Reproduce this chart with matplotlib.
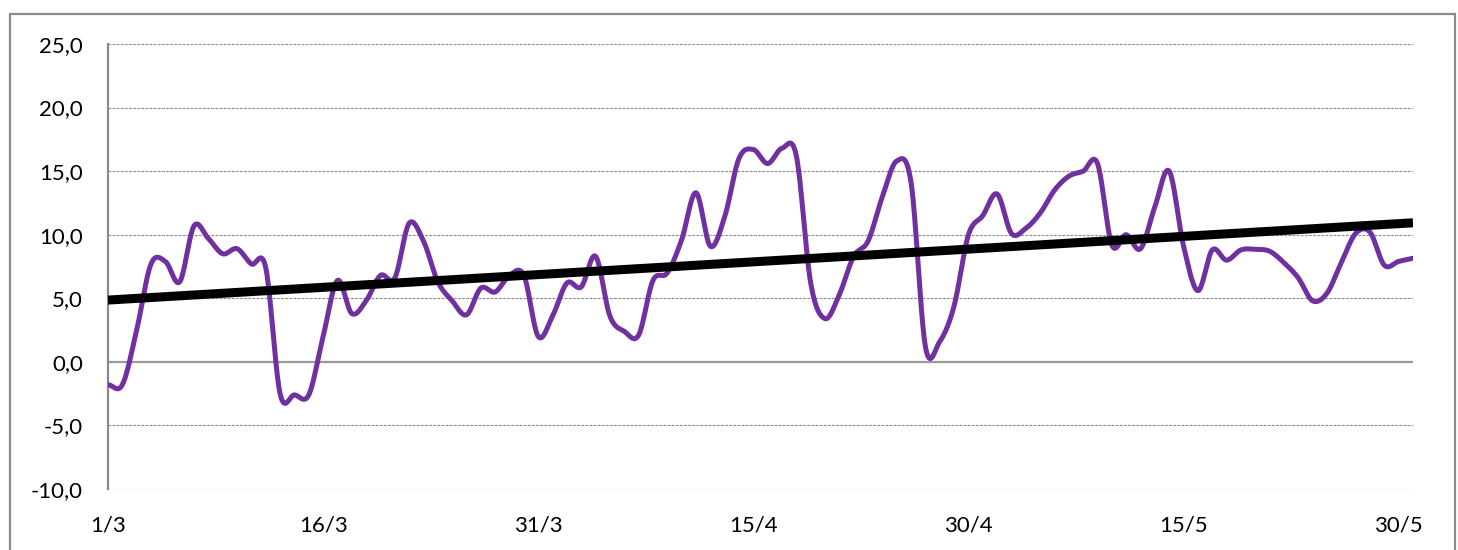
"""Daily temperature 1/3 - 31/5 with linear trend (Excel-style smoothed line)."""
import matplotlib
matplotlib.use("Agg")
import matplotlib.pyplot as plt
import matplotlib.patches as mpatches
import numpy as np

# ---------------------------------------------------------------------------
# Data (one value per day from 1/3 to 31/5)
# ---------------------------------------------------------------------------
TEMPS = [
    -1.8, -1.8, 2.5, 7.7, 7.9, 6.3, 10.7, 9.7, 8.5, 8.9,      # 1/3 - 10/3
    7.7, 7.4, -2.5, -2.6, -2.6, 2.0, 6.4, 3.8, 4.8, 6.8,      # 11/3 - 20/3
    6.6, 10.9, 9.5, 6.3, 4.8, 3.7, 5.8, 5.5, 6.8, 6.8,        # 21/3 - 30/3
    2.0, 3.6, 6.2, 5.9, 8.3, 3.6, 2.4, 2.1, 6.4, 7.0,         # 31/3 - 9/4
    9.6, 13.3, 9.1, 11.4, 16.0, 16.7, 15.6, 16.8, 16.2, 6.2,  # 10/4 - 19/4
    3.4, 5.3, 8.3, 9.5, 13.0, 15.8, 14.1, 1.2, 1.6, 4.4,      # 20/4 - 29/4
    10.0, 11.5, 13.2, 10.1, 10.5, 11.7, 13.5, 14.6, 15.0, 15.6,  # 30/4 - 9/5
    9.2, 10.0, 8.9, 12.2, 15.0, 9.1, 5.6, 8.8, 8.0, 8.8,      # 10/5 - 19/5
    8.85, 8.7, 7.8, 6.6, 4.8, 5.4, 7.8, 10.1, 10.2, 7.6,      # 20/5 - 29/5
    7.9, 8.15,                                                # 30/5 - 31/5
]
TICK_DAYS = [0, 15, 30, 45, 60, 75, 90]
TICK_LABELS = ["1/3", "16/3", "31/3", "15/4", "30/4", "15/5", "30/5"]
Y_TICKS = [-10, -5, 0, 5, 10, 15, 20, 25]

PURPLE = "#7030A0"
GRID_GRAY = "#8c8c8c"


def smooth_line(x, y, n_sub=20):
    """Catmull-Rom interpolation, close to Excel's 'smoothed line'."""
    x = np.asarray(x, dtype=float)
    y = np.asarray(y, dtype=float)
    px = np.concatenate([[2 * x[0] - x[1]], x, [2 * x[-1] - x[-2]]])
    py = np.concatenate([[2 * y[0] - y[1]], y, [2 * y[-1] - y[-2]]])
    t = np.linspace(0, 1, n_sub, endpoint=False)
    xs, ys = [], []
    for i in range(1, len(px) - 2):
        for arr, out in ((px, xs), (py, ys)):
            p0, p1, p2, p3 = arr[i - 1], arr[i], arr[i + 1], arr[i + 2]
            out.append(0.5 * ((2 * p1) + (-p0 + p2) * t
                              + (2 * p0 - 5 * p1 + 4 * p2 - p3) * t ** 2
                              + (-p0 + 3 * p1 - 3 * p2 + p3) * t ** 3))
    xs.append([x[-1]])
    ys.append([y[-1]])
    return np.concatenate(xs), np.concatenate(ys)


def main() -> None:
    plt.rcParams["font.family"] = ["Lato", "DejaVu Sans"]

    days = np.arange(len(TEMPS))
    vals = np.array(TEMPS, dtype=float)

    fig = plt.figure(figsize=(14.58, 5.5), dpi=100)
    ax = fig.add_axes([108 / 1458, 1 - 489 / 550, 1305 / 1458, 445 / 550])

    # outer chart frame
    fig.patches.append(mpatches.Rectangle(
        (10 / 1458, -0.1), 1445 / 1458, 1.1 - 14 / 550,
        transform=fig.transFigure, fill=False, edgecolor="#8a8a8a",
        linewidth=1.6, zorder=0))

    # gridlines
    for yv in Y_TICKS:
        if yv == 0:
            ax.axhline(0, color="#999999", linewidth=1.6, zorder=1)
        else:
            ax.axhline(yv, color=GRID_GRAY, linewidth=0.8,
                       linestyle=(0, (2.5, 1.2)), zorder=1)

    sx, sy = smooth_line(days, vals)
    ax.plot(sx, sy, color=PURPLE, linewidth=3.6, solid_capstyle="round",
            solid_joinstyle="round", zorder=3)

    # linear trend line
    slope, icpt = np.polyfit(days, vals, 1)
    ax.plot([days[0], days[-1]], [icpt, icpt + slope * days[-1]],
            color="black", linewidth=6.5, solid_capstyle="butt", zorder=4)

    ax.set_xlim(0, len(TEMPS) - 1)
    ax.set_ylim(-10, 25)
    ax.set_yticks(Y_TICKS)
    ax.set_yticklabels([f"{v:.1f}".replace(".", ",") for v in Y_TICKS])
    ax.set_xticks(TICK_DAYS)
    ax.set_xticklabels(TICK_LABELS)
    ax.tick_params(axis="both", length=0, labelsize=16, labelcolor="black")
    ax.tick_params(axis="y", pad=18)
    ax.tick_params(axis="x", pad=19)

    for side in ("top", "right", "bottom"):
        ax.spines[side].set_visible(False)
    ax.spines["left"].set_color("#8a8a8a")
    ax.spines["left"].set_linewidth(1.6)

    fig.savefig("out.png", dpi=100)
    plt.close(fig)


if __name__ == "__main__":
    main()
